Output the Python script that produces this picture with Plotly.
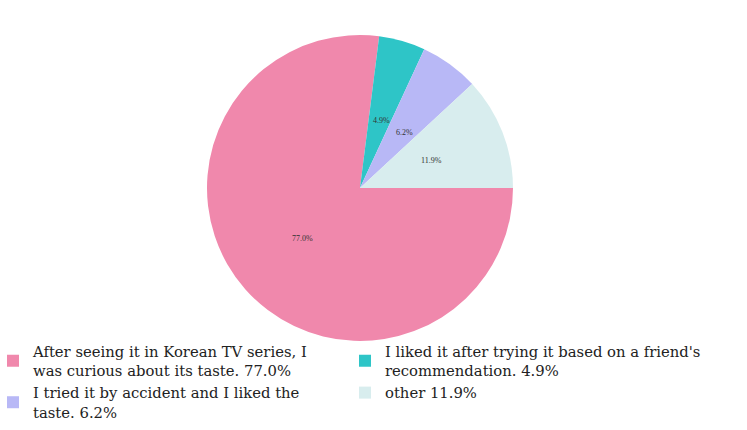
import math
import plotly.graph_objects as go

# Reasons for trying the food, share of respondents
labels = [
    "After seeing it in Korean TV series, I<br>was curious about its taste.",
    "I liked it after trying it based on a friend's<br>recommendation.",
    "I tried it by accident and I liked the<br>taste.",
    "other",
]
values = [77.0, 4.9, 6.2, 11.9]
colors = ["#F088AC", "#2EC5C7", "#B8B8F6", "#D8EDEE"]

W, H = 747, 430
cx, cy, r = 360, 188, 153

# Legend entries show the label followed by its percentage
legend_names = [f"{l} {v:.1f}%" for l, v in zip(labels, values)]

fig = go.Figure(
    go.Pie(
        labels=legend_names,
        values=values,
        sort=False,
        direction="clockwise",
        rotation=90,
        marker=dict(colors=colors, line=dict(width=0)),
        textinfo="none",
        hoverinfo="label+percent",
        domain=dict(
            x=[(cx - r) / W, (cx + r) / W],
            y=[1 - (cy + r) / H, 1 - (cy - r) / H],
        ),
    )
)

# Percentage labels sit halfway out along each slice's middle angle,
# slices running clockwise from three o'clock
total = sum(values)
cum = 0.0
for v in values:
    mid = (cum + v / 2) / total
    cum += v
    ang = -2 * math.pi * mid
    px = cx + 0.5 * r * math.cos(ang)
    py = cy - 0.5 * r * math.sin(ang)
    fig.add_annotation(
        x=px / W,
        y=1 - py / H,
        xref="paper",
        yref="paper",
        text=f"{v / total:.1%}",
        showarrow=False,
        font=dict(family="Liberation Serif", size=8, color="#333333"),
    )

fig.update_layout(
    width=W,
    height=H,
    margin=dict(l=0, r=0, t=0, b=0, autoexpand=False),
    paper_bgcolor="white",
    plot_bgcolor="white",
    showlegend=True,
    legend=dict(
        orientation="h",
        x=0,
        xanchor="left",
        y=1 - 335 / H,
        yanchor="top",
        indentation=-7,
        entrywidth=314,
        entrywidthmode="pixels",
        font=dict(family="DejaVu Serif", size=14.8, color="#222222"),
        itemsizing="constant",
        tracegroupgap=0,
        traceorder="normal",
        bgcolor="rgba(0,0,0,0)",
    ),
)

fig.write_html("out.html")
